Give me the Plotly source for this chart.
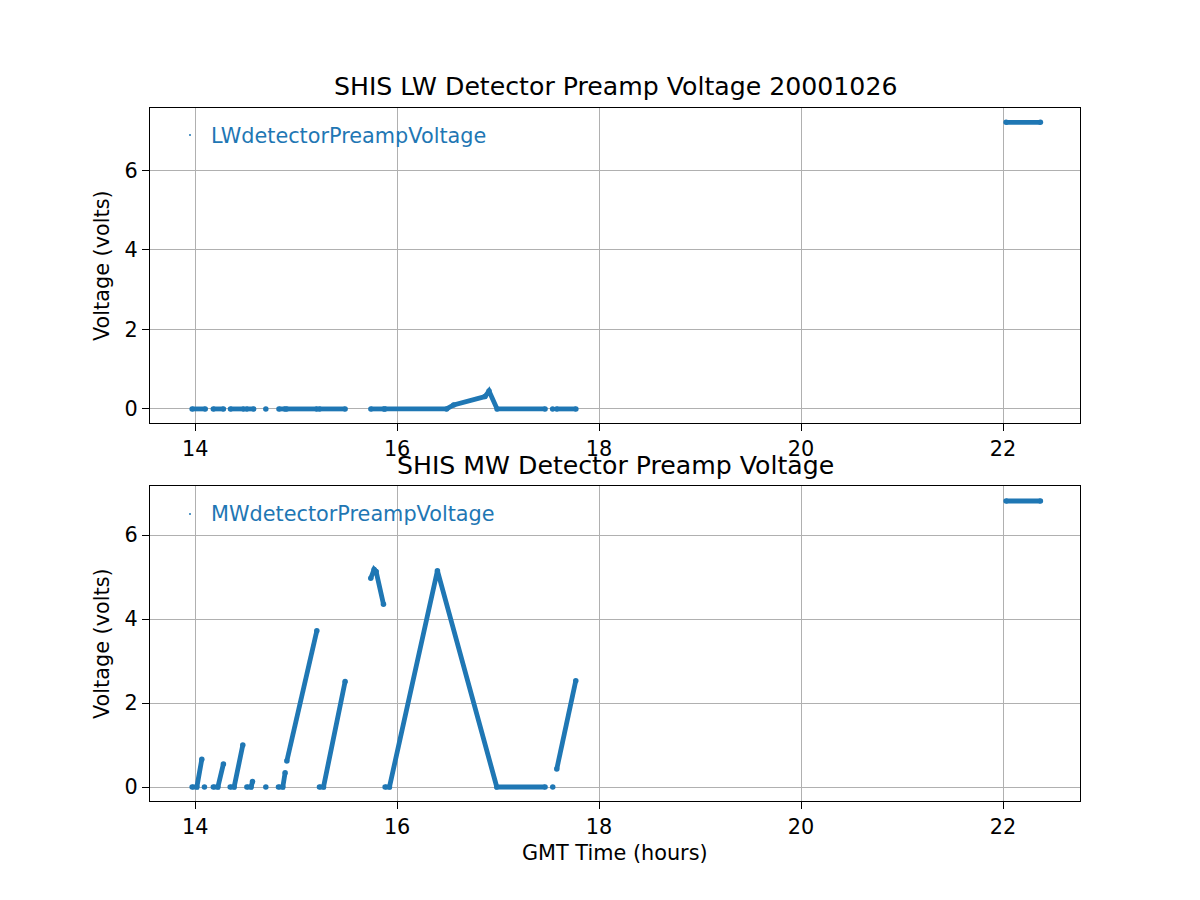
import plotly.graph_objects as go

# ---- data ----
lw_hours = [13.97, 14.10, None,
            14.18, 14.28, None,
            14.35, 14.48, None,
            14.51, 14.58, None,
            14.70, None,
            14.83, 14.89, None,
            14.905, 15.205, None,
            15.23, 15.485, None,
            15.74, 15.87, None,
            15.88, 16.49, 16.56, 16.87, 16.91, 16.99, 17.465, None,
            17.54, None,
            17.58, 17.77, None,
            22.03, 22.37]
lw_volts = [0, 0, None,
            0, 0, None,
            0, 0, None,
            0, 0, None,
            0, None,
            0, 0, None,
            0, 0, None,
            0, 0, None,
            0, 0, None,
            0, 0, 0.10, 0.31, 0.45, 0, 0, None,
            0, None,
            0, 0, None,
            7.21, 7.21]

mw_hours = [13.97, 14.017, 14.066, None,
            14.092, None,
            14.18, 14.225, 14.28, None,
            14.347, 14.386, 14.472, None,
            14.512, 14.554, 14.568, None,
            14.70, None,
            14.825, 14.868, 14.891, None,
            14.908, 15.205, None,
            15.231, 15.271, 15.485, None,
            15.739, 15.772, 15.792, 15.865, None,
            15.881, 15.924, 16.399, 16.987, 17.465, None,
            17.541, None,
            17.581, 17.769, None,
            22.03, 22.37]
mw_volts = [0, 0, 0.66, None,
            0, None,
            0, 0, 0.55, None,
            0, 0, 1.0, None,
            0, 0, 0.13, None,
            0, None,
            0, 0, 0.34, None,
            0.62, 3.72, None,
            0, 0, 2.51, None,
            4.97, 5.18, 5.13, 4.35, None,
            0, 0, 5.15, 0, 0, None,
            0, None,
            0.43, 2.53, None,
            6.81, 6.81]

x_ticks = [14, 16, 18, 20, 22]
y_ticks = [0, 2, 4, 6]

BLUE = "#1f77b4"
FONT = "DejaVu Sans"
W, H = 1200, 900
OFF = 8  # page body margin

def px(x):
    return (x - OFF) / W

def py(y):
    return 1 - (y - OFF) / H

fig = go.Figure()
fig.add_trace(go.Scatter(x=lw_hours, y=lw_volts, mode="lines+markers",
                         line=dict(color=BLUE, width=4.8),
                         marker=dict(color=BLUE, size=5.5),
                         xaxis="x", yaxis="y", showlegend=False,
                         connectgaps=False))
fig.add_trace(go.Scatter(x=mw_hours, y=mw_volts, mode="lines+markers",
                         line=dict(color=BLUE, width=4.8),
                         marker=dict(color=BLUE, size=5.5),
                         xaxis="x2", yaxis="y2", showlegend=False,
                         connectgaps=False))

axis_common = dict(showline=True, linecolor="black", linewidth=1.25, mirror=True,
                   ticks="outside", ticklen=7, tickwidth=1.25, tickcolor="black",
                   showgrid=True, gridcolor="#b0b0b0", gridwidth=1.25,
                   zeroline=False, tickfont=dict(family=FONT, size=20.8, color="black"))

xr = [13.553, 22.762]
fig.update_layout(
    width=W, height=H,
    margin=dict(l=0, r=0, t=0, b=0),
    paper_bgcolor="white", plot_bgcolor="white",
    xaxis=dict(domain=[px(150), px(1080)], anchor="y", range=xr,
               tickvals=x_ticks, **axis_common),
    yaxis=dict(domain=[py(423), py(108)], anchor="x", range=[-0.354, 7.57],
               tickvals=y_ticks, **axis_common),
    xaxis2=dict(domain=[px(150), px(1080)], anchor="y2", range=xr,
                tickvals=x_ticks, **axis_common),
    yaxis2=dict(domain=[py(801), py(486)], anchor="x2", range=[-0.333, 7.167],
                tickvals=y_ticks, **axis_common),
)

ann = []
def text(x, y, s, size=20.8, color="black", angle=0, xanchor="center"):
    ann.append(dict(x=px(x), y=py(y), xref="paper", yref="paper", text=s,
                    showarrow=False, xanchor=xanchor, yanchor="middle",
                    textangle=angle,
                    font=dict(family=FONT, size=size, color=color)))

text(615, 87, "SHIS LW Detector Preamp Voltage 20001026", size=25.2)
text(615, 466, "SHIS MW Detector Preamp Voltage", size=25.2)
text(102, 266, "Voltage (volts)", angle=-90)
text(102, 644, "Voltage (volts)", angle=-90)
text(615, 853, "GMT Time (hours)")
text(209, 136, "LWdetectorPreampVoltage", color=BLUE, xanchor="left")
text(209, 514, "MWdetectorPreampVoltage", color=BLUE, xanchor="left")
fig.update_layout(annotations=ann)

# legend dots
for yy in (135, 514):
    fig.add_shape(type="circle", xref="paper", yref="paper",
                  x0=px(189), x1=px(191), y0=py(yy + 1), y1=py(yy - 1),
                  fillcolor=BLUE, line=dict(width=0))

fig.write_html("out.html")
